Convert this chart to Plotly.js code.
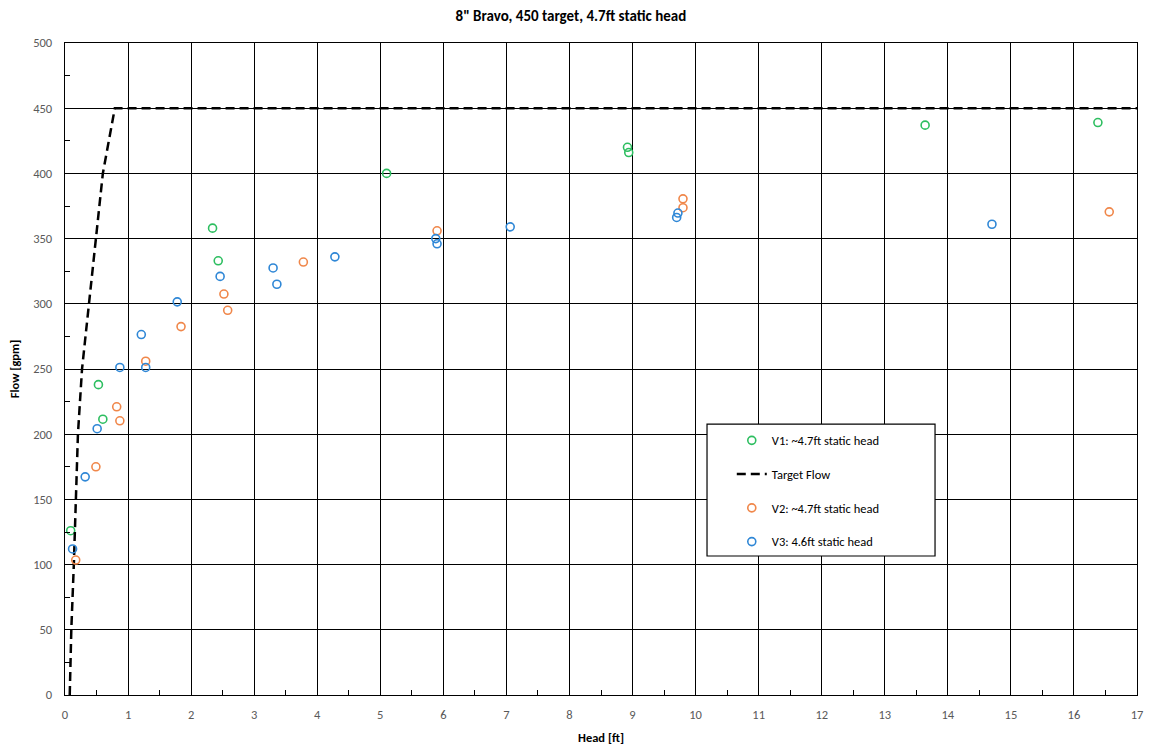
<!DOCTYPE html>
<html>
<head>
<meta charset="utf-8">
<script src="https://cdn.plot.ly/plotly-3.0.1.min.js"></script>
<style>html,body{margin:0;padding:0;background:#fff;}#chart{width:1151px;height:749px;}</style>
</head>
<body>
<div id="chart"></div>
<script>
// Series data
const v1Head = [0.09, 0.53, 0.60, 2.34, 2.43, 5.10, 8.92, 8.94, 13.64, 16.38];
const v1Flow = [126, 238, 211.5, 358, 333, 400, 420, 416, 437, 439];

const targetHead = [0.075, 0.10, 0.14, 0.17, 0.205, 0.27, 0.38, 0.48, 0.60, 0.79, 17];
const targetFlow = [0, 50, 100, 150, 200, 250, 300, 350, 400, 450, 450];

const v2Head = [0.17, 0.49, 0.82, 0.87, 1.28, 1.84, 2.52, 2.58, 3.78, 5.90, 9.80, 9.80, 16.56];
const v2Flow = [103.5, 175, 221, 210.3, 256, 282.5, 307.5, 295, 332, 356, 380.5, 373.7, 370.5];

const v3Head = [0.12, 0.32, 0.51, 0.87, 1.21, 1.28, 1.78, 2.46, 3.30, 3.36, 4.28, 5.88, 5.90, 7.06, 9.72, 9.70, 14.70];
const v3Flow = [112, 167.3, 204.2, 251.2, 276.4, 251.2, 301.5, 321, 327.5, 315, 336, 350, 346, 359, 369.6, 366.2, 361];

const seriesNames = ["V1: ~4.7ft static head", "Target Flow", "V2: ~4.7ft static head", "V3: 4.6ft static head"];
const xTickVals = [0,1,2,3,4,5,6,7,8,9,10,11,12,13,14,15,16,17];
const yTickVals = [0,50,100,150,200,250,300,350,400,450,500];

const FONT = 'Carlito, "Liberation Sans Narrow", "Liberation Sans", Arial, sans-serif';
const markerStyle = (c) => ({symbol: 'circle-open', size: 8, color: c, line: {width: 1.6, color: c}});

const traces = [
  {x: v1Head, y: v1Flow, type: 'scatter', mode: 'markers', name: seriesNames[0], legendgroup: 'a',
   marker: markerStyle('#2DBE60')},
  {x: targetHead, y: targetFlow, type: 'scatter', mode: 'lines', name: seriesNames[1], legendgroup: 'b',
   line: {color: '#000', width: 2.5, dash: '9px,5px'}},
  {x: v2Head, y: v2Flow, type: 'scatter', mode: 'markers', name: seriesNames[2], legendgroup: 'c',
   marker: markerStyle('#F0874A')},
  {x: v3Head, y: v3Flow, type: 'scatter', mode: 'markers', name: seriesNames[3], legendgroup: 'd',
   marker: markerStyle('#2F87D6')}
];

const layout = {
  width: 1151, height: 749,
  margin: {l: 65, r: 14, t: 43, b: 54},
  paper_bgcolor: '#fff', plot_bgcolor: '#fff',
  font: {family: FONT, color: '#595959', size: 12},
  title: {text: '8" Bravo, 450 target, 4.7ft static head', x: 0.496, xanchor: 'center', y: 0.979, yanchor: 'middle',
          font: {family: FONT, size: 15, color: '#000', weight: 'bold'}},
  showlegend: true,
  legend: {x: 0.622, y: 0.413, xanchor: 'left', yanchor: 'top', bgcolor: 'rgba(0,0,0,0)', borderwidth: 0,
           traceorder: 'grouped', tracegroupgap: 14.5,
           font: {family: FONT, size: 12.5, color: '#000'}},
  xaxis: {
    range: [0, 17], tickvals: xTickVals, ticktext: xTickVals.map(String),
    showgrid: true, gridcolor: '#000', gridwidth: 1,
    showline: true, linecolor: '#000', linewidth: 1.3, mirror: true,
    ticks: 'inside', ticklen: 5, tickcolor: '#000', zeroline: false,
    minor: {dtick: 0.5, ticks: 'inside', ticklen: 5, tickcolor: '#000', showgrid: false},
    ticklabelstandoff: 8,
    tickfont: {family: FONT, size: 12.5, color: '#595959'},
    title: {text: 'Head [ft]', standoff: 12, font: {family: FONT, size: 12.5, color: '#000', weight: 'bold'}}
  },
  yaxis: {
    range: [0, 500], tickvals: yTickVals, ticktext: yTickVals.map(String),
    showgrid: true, gridcolor: '#000', gridwidth: 1,
    showline: true, linecolor: '#000', linewidth: 1.3, mirror: true,
    ticks: 'inside', ticklen: 5, tickcolor: '#000', zeroline: false,
    minor: {dtick: 25, ticks: 'inside', ticklen: 5, tickcolor: '#000', showgrid: false},
    ticklabelstandoff: 9,
    tickfont: {family: FONT, size: 12.5, color: '#595959'},
    title: {text: 'Flow [gpm]', standoff: 10, font: {family: FONT, size: 12.5, color: '#000', weight: 'bold'}}
  },
  shapes: [
    {type: 'rect', xref: 'paper', yref: 'paper', x0: 0.5989, x1: 0.8116, y0: 0.2132, y1: 0.4156,
     layer: 'above', fillcolor: '#fff', line: {color: '#000', width: 1.2}}
  ]
};

Plotly.newPlot('chart', traces, layout, {displayModeBar: false, staticPlot: true});
</script>
</body>
</html>
